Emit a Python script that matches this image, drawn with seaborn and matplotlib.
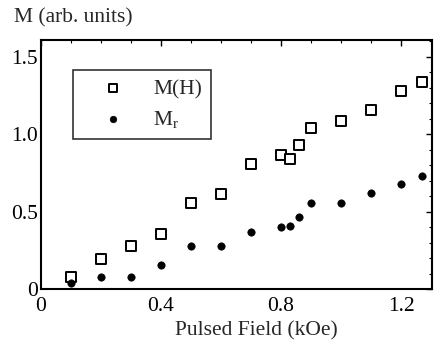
import matplotlib
matplotlib.use("Agg")
import matplotlib.pyplot as plt
import seaborn as sns
import numpy as np
import pandas as pd
from matplotlib.ticker import MultipleLocator

field = [0.1, 0.2, 0.3, 0.4, 0.5, 0.6, 0.7, 0.8, 0.83, 0.86, 0.9, 1.0, 1.1, 1.2, 1.27]
m_h = [0.078, 0.195, 0.28, 0.357, 0.558, 0.617, 0.805, 0.864, 0.838, 0.929, 1.04, 1.084, 1.156, 1.281, 1.336]
m_r = [0.04, 0.08, 0.08, 0.158, 0.277, 0.28, 0.37, 0.398, 0.409, 0.463, 0.554, 0.556, 0.619, 0.68, 0.73]

sns.set_style("white")
plt.rcParams['font.family'] = ['Liberation Serif', 'DejaVu Serif']
plt.rcParams['mathtext.fontset'] = 'stix'

fig = plt.figure(figsize=(4.39, 3.41), dpi=100)
ax = fig.add_axes([0.0934, 0.1525, 0.8906, 0.7305])

df_h = pd.DataFrame({"x": field, "y": m_h})
df_r = pd.DataFrame({"x": field, "y": m_r})
sns.scatterplot(data=df_h, x="x", y="y", ax=ax, marker="s", s=50,
                facecolor="white", edgecolor="black", linewidth=1.4, label="M(H)")
sns.scatterplot(data=df_r, x="x", y="y", ax=ax, marker="o", s=28,
                color="black", edgecolor="black", linewidth=0.5, label=r"M$_\mathregular{r}$")

ax.set_xlim(0, 1.303)
ax.set_ylim(0, 1.61)
ax.set_xticks([0, 0.4, 0.8, 1.2])
ax.set_xticklabels(["0", "0.4", "0.8", "1.2"])
ax.set_yticks([0, 0.5, 1.0, 1.5])
ax.set_yticklabels(["0", "0.5", "1.0", "1.5"])
ax.xaxis.set_minor_locator(MultipleLocator(0.1))
ax.yaxis.set_minor_locator(MultipleLocator(0.1))
ax.tick_params(which="both", direction="in", top=True, right=True, labelsize=15.5, colors="black")
ax.tick_params(which="major", length=4, width=1)
ax.tick_params(axis="y", which="major", pad=2)
ax.tick_params(axis="x", which="major", pad=6)
ax.tick_params(which="minor", length=2, width=0.8)
for s in ax.spines.values():
    s.set_color("black")
    s.set_linewidth(1.5)

ax.set_xlabel("Pulsed Field (kOe)", fontsize=15.5, labelpad=0)
ax.xaxis.set_label_coords(0.55, -0.13)
ax.set_ylabel("")
fig.text(0.033, 0.975, "M (arb. units)", fontsize=15.5, va="top", ha="left")

leg = ax.legend(loc="upper left", bbox_to_anchor=(0.082, 0.879), frameon=True, fancybox=False,
                edgecolor="black", fontsize=15.5, handletextpad=0.4, borderpad=0.42,
                labelspacing=0.45, borderaxespad=0, handlelength=2.9)
leg.get_frame().set_linewidth(1.2)
hs = leg.legend_handles
hs[0].set_sizes([32])
hs[1].set_sizes([22])

fig.savefig("out.png", dpi=100)
